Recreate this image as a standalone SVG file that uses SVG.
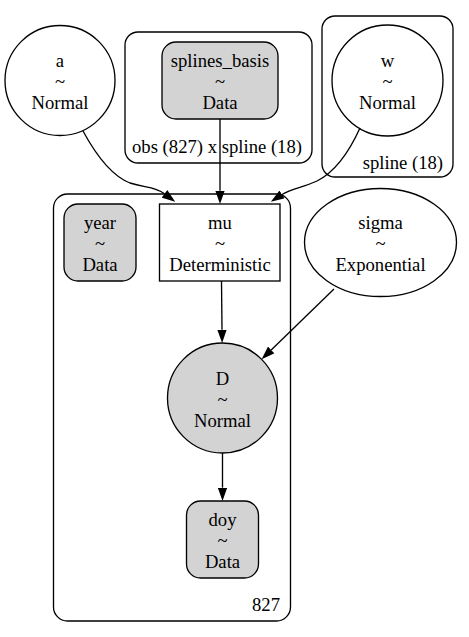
<svg xmlns="http://www.w3.org/2000/svg" width="469" height="637" viewBox="0 0 469 637">
<style>
text{font-family:"Liberation Serif","Times New Roman",serif;font-size:18.67px;fill:#000;text-anchor:middle}
.cl{fill:none;stroke:#000;stroke-width:1.33}
.nd{fill:#fff;stroke:#000;stroke-width:1.33}
.gr{fill:#d3d3d3;stroke:#000;stroke-width:1.33}
.ed{fill:none;stroke:#000;stroke-width:1.33}
.lbl{text-anchor:end}
</style>
<defs>
<marker id="ah" viewBox="0 0 13.3 9.4" refX="0" refY="4.7" markerWidth="13.3" markerHeight="9.4" markerUnits="userSpaceOnUse" orient="auto">
<path d="M0,0 L13.3,4.7 L0,9.4 Z" fill="#000"/>
</marker>
</defs>
<rect fill="#fff" width="469" height="637"/>
<g id="cluster_obs_spline">
<rect class="cl" x="125" y="32" width="187" height="131" rx="13"/>
<text class="lbl" x="302" y="153">obs (827) x spline (18)</text>
</g>
<g id="cluster_spline">
<rect class="cl" x="322" y="16" width="131" height="161" rx="13"/>
<text class="lbl" x="443" y="169">spline (18)</text>
</g>
<g id="cluster_827">
<rect class="cl" x="53.5" y="194" width="237" height="427" rx="14"/>
<text class="lbl" x="280" y="611">827</text>
</g>
<g id="a">
<circle class="nd" cx="60" cy="80.5" r="55"/>
<text x="60" y="67">a</text><text x="60" y="88">~</text><text x="60" y="109">Normal</text>
</g>
<g id="splines_basis">
<rect class="gr" x="162" y="42" width="116" height="77" rx="14"/>
<text x="220" y="67">splines_basis</text><text x="220" y="88">~</text><text x="220" y="109">Data</text>
</g>
<g id="w">
<circle class="nd" cx="387.5" cy="80.5" r="55.5"/>
<text x="387.5" y="67">w</text><text x="387.5" y="88">~</text><text x="387.5" y="109">Normal</text>
</g>
<g id="year">
<rect class="gr" x="64" y="204" width="72" height="77" rx="14"/>
<text x="100" y="229">year</text><text x="100" y="250">~</text><text x="100" y="271">Data</text>
</g>
<g id="mu">
<rect class="nd" x="159.5" y="204" width="120.5" height="77"/>
<text x="220" y="229">mu</text><text x="220" y="250">~</text><text x="220" y="271">Deterministic</text>
</g>
<g id="sigma">
<ellipse class="nd" cx="380.5" cy="242.5" rx="76" ry="54"/>
<text x="380.5" y="229">sigma</text><text x="380.5" y="250">~</text><text x="380.5" y="271">Exponential</text>
</g>
<g id="D">
<circle class="gr" cx="222.5" cy="398" r="55"/>
<text x="222.5" y="385">D</text><text x="222.5" y="406">~</text><text x="222.5" y="427">Normal</text>
</g>
<g id="doy">
<rect class="gr" x="186.5" y="501" width="72" height="77" rx="14"/>
<text x="222.5" y="526">doy</text><text x="222.5" y="547">~</text><text x="222.5" y="568">Data</text>
</g>
<g id="connectors">
<path class="ed" marker-end="url(#ah)" d="M220,119 L220,190.7"/>
<path class="ed" marker-end="url(#ah)" d="M83,131 C96,155 112,176 130,183 C145,188 154,186 164.5,193.8"/>
<path class="ed" marker-end="url(#ah)" d="M360,128 C350,150 335,172 317,181 C302,188 292,188 282,194.5"/>
<path class="ed" marker-end="url(#ah)" d="M221.5,281 L222,329.7"/>
<path class="ed" marker-end="url(#ah)" d="M334,289 L271.2,350"/>
<path class="ed" marker-end="url(#ah)" d="M222.5,453 L222.5,487.7"/>
</g>
</svg>
